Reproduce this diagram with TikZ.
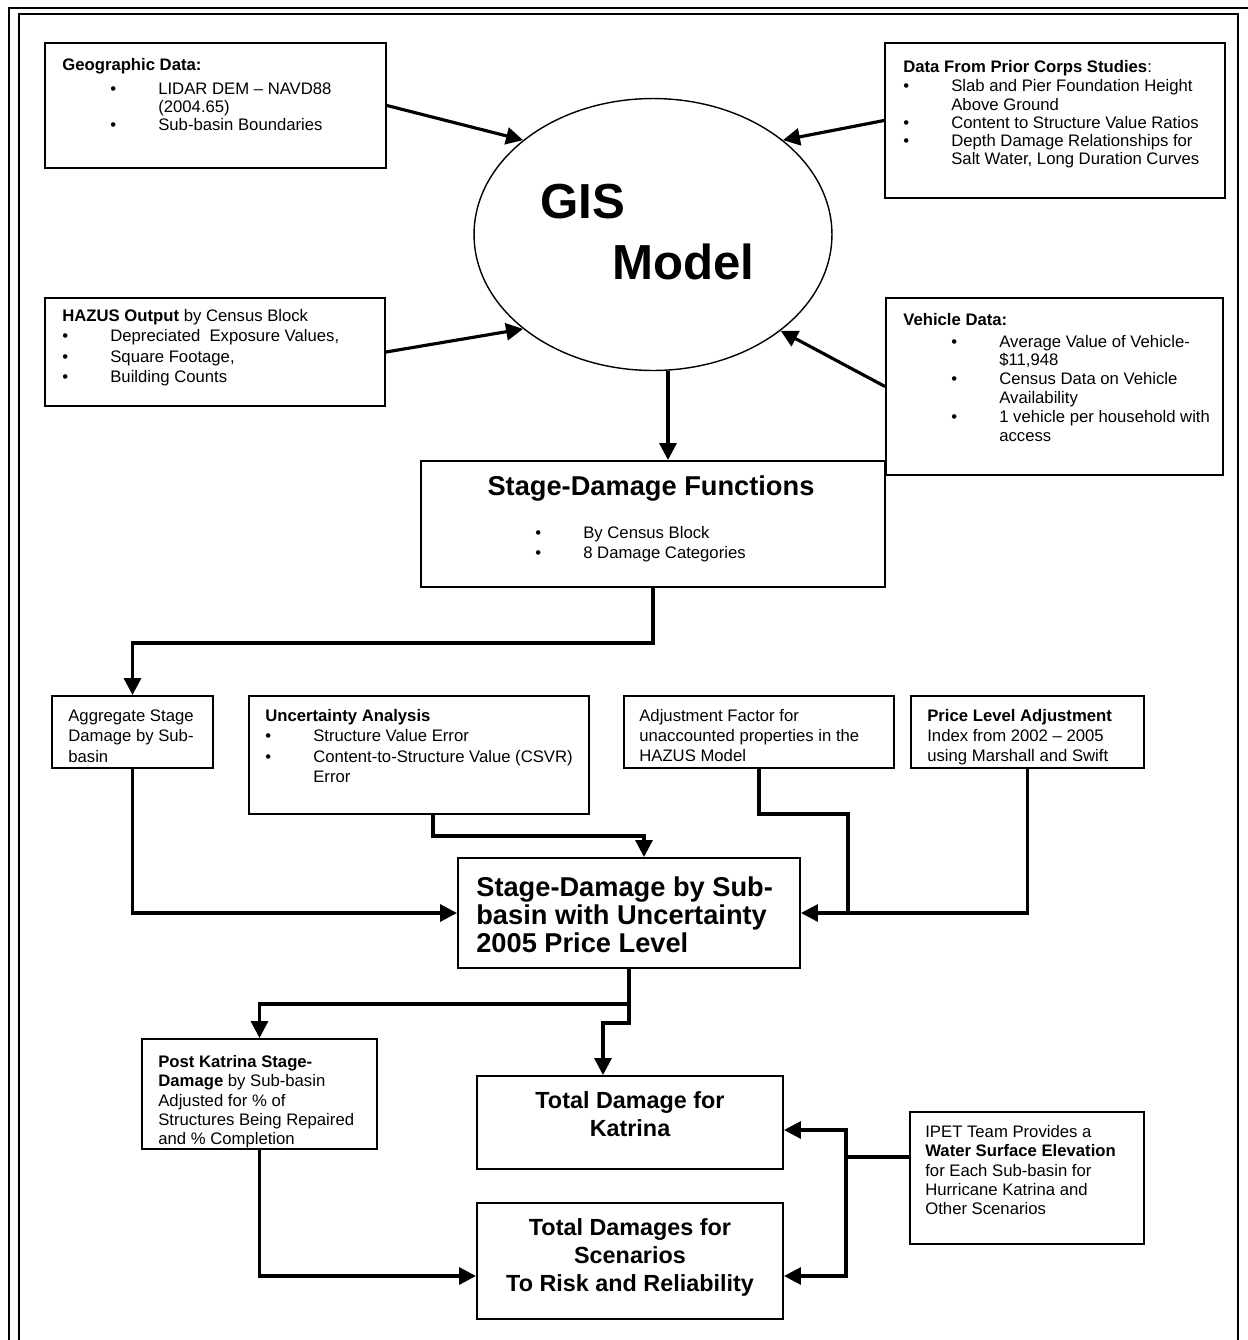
\documentclass[tikz,border=0pt]{standalone}
\usepackage{fontspec}
\setmainfont{Liberation Sans}
\usetikzlibrary{arrows.meta,shapes.geometric,fit}
\newcommand{\bul}{\makebox[0.96cm][l]{\textbullet}}
\newcommand{\gap}{\hspace*{0.96cm}}

\begin{document}
\begin{tikzpicture}[x=0.02cm, y=-0.02cm,
  box/.style={draw, line width=1.1pt, inner sep=0pt},
  txt/.style={anchor=north west, inner sep=0pt, align=left, font=\fontsize{9.5pt}{11.4pt}\selectfont},
  head/.style={inner sep=0pt, align=center, font=\fontsize{13.3pt}{16pt}\selectfont\bfseries},
  arr/.style={line width=1.8pt, -{Triangle[length=0.34cm, width=0.34cm]}},
  conn/.style={line width=1.8pt}]
  \useasboundingbox[fill=white] (0,0) rectangle (1248,1340);
  \draw[line width=1.4pt] (9,8) rectangle (1270,1360);
  \draw[line width=1.4pt] (19,14) rectangle (1238,1360);

  \node[draw, ellipse, line width=0.8pt, inner sep=0pt, minimum width=7.16cm, minimum height=5.44cm] (gis) at (653,234.5) {};
  \node[anchor=north west, inner sep=0pt, font=\fontsize{28pt}{30pt}\selectfont\bfseries] (gisa) at (540,184) {GIS};
  \node[anchor=north west, inner sep=0pt, font=\fontsize{28pt}{30pt}\selectfont\bfseries] (gisb) at (612,243) {Model};

  \node[box, fit={(45,43) (386,168)}] (geo) {};
  \node[txt, font=\fontsize{9.5pt}{10.2pt}\selectfont] (geotxt) at (62,58) {\textbf{Geographic Data:}\\[3.5pt]
    \gap\bul LIDAR DEM – NAVD88\\ \gap\gap (2004.65)\\ \gap\bul Sub-basin Boundaries};

  \node[box, fit={(885,43) (1225,198)}] (corps) {};
  \node[txt, font=\fontsize{9.5pt}{10.4pt}\selectfont] (corpstxt) at (903,60) {\textbf{Data From Prior Corps Studies}:\\[0.6pt]
    \bul Slab and Pier Foundation Height\\ \gap Above Ground\\ \bul Content to Structure Value Ratios\\
    \bul Depth Damage Relationships for\\ \gap Salt Water, Long Duration Curves};

  \node[box, fit={(45,298) (385,406)}] (hazus) {};
  \node[txt, font=\fontsize{9.5pt}{11.6pt}\selectfont] (hazustxt) at (62,309) {\textbf{HAZUS Output} by Census Block\\
    \bul Depreciated\ \ Exposure Values,\\ \bul Square Footage,\\ \bul Building Counts};

  \node[box, fit={(886,298) (1223,475)}] (veh) {};
  \node[txt, font=\fontsize{9.5pt}{10.7pt}\selectfont] (vehtxt) at (903,313) {\textbf{Vehicle Data:}\\[1.6pt]
    \gap\bul Average Value of Vehicle-\\ \gap\gap \$11,948\\ \gap\bul Census Data on Vehicle\\
    \gap\gap Availability\\ \gap\bul 1 vehicle per household with\\ \gap\gap access};

  \node[box, fit={(421,461) (885,587)}] (sdf) {};
  \node[head, anchor=north, font=\fontsize{15.5pt}{16pt}\selectfont\bfseries] (sdftitle) at (651,475) {Stage-Damage Functions};
  \node[txt] (sdflist) at (535,526) {\bul By Census Block\\ \bul 8 Damage Categories};

  \node[box, fit={(52,696) (213,768)}] (agg) {};
  \node[txt, font=\fontsize{9.5pt}{11.7pt}\selectfont] (aggtxt) at (68,709) {Aggregate Stage\\ Damage by Sub-\\ basin};

  \node[box, fit={(249,696) (589,814)}] (unc) {};
  \node[txt, font=\fontsize{9.5pt}{11.6pt}\selectfont] (unctxt) at (265,709) {\textbf{Uncertainty Analysis}\\
    \bul Structure Value Error\\ \bul Content-to-Structure Value (CSVR)\\ \gap Error};

  \node[box, fit={(624,696) (894,768)}] (adj) {};
  \node[txt] (adjtxt) at (639,709) {Adjustment Factor for\\ unaccounted properties in the\\ HAZUS Model};

  \node[box, fit={(911,696) (1144,768)}] (price) {};
  \node[txt] (pricetxt) at (927,709) {\textbf{Price Level Adjustment}\\ Index from 2002 – 2005\\ using Marshall and Swift};

  \node[box, fit={(458,858) (800,968)}] (sdsb) {};
  \node[txt, font=\fontsize{15.5pt}{16pt}\selectfont\bfseries] (sdsbtxt) at (476,876) {Stage-Damage by Sub-\\ basin with Uncertainty\\ 2005 Price Level};

  \node[box, fit={(142,1039) (377,1149)}] (post) {};
  \node[txt, font=\fontsize{9.5pt}{11pt}\selectfont] (posttxt) at (158,1055) {\textbf{Post Katrina Stage-}\\
    \textbf{Damage} by Sub-basin\\ Adjusted for \% of\\ Structures Being Repaired\\ and \% Completion};

  \node[box, fit={(477,1076) (783,1169)}] (kat) {};
  \node[head, anchor=north] (kattxt) at (630,1091) {Total Damage for\\ Katrina};

  \node[box, fit={(477,1203) (783,1319)}] (scen) {};
  \node[head, anchor=north] (scentxt) at (630,1218) {Total Damages for\\ Scenarios\\ To Risk and Reliability};

  \node[box, fit={(910,1112) (1144,1244)}] (ipet) {};
  \node[txt, font=\fontsize{9.5pt}{11pt}\selectfont] (ipettxt) at (925,1125) {IPET Team Provides a\\
    \textbf{Water Surface Elevation}\\ for Each Sub-basin for\\ Hurricane Katrina and\\ Other Scenarios};

  \draw[arr] (geo.east) -- (gis.144);
  \draw[arr] (corps.west) -- (gis.36.5);
  \draw[arr] (hazus.east) -- (gis.216.5);
  \draw[arr] (veh.west) -- (gis.323);
  \draw[arr] ([xshift=0.3cm]gis.south) -- ([xshift=0.3cm]sdf.north);
  \draw[arr] (sdf.south) -- ++(0,55) -| (agg.north);
  \draw[arr] (agg.south) |- (sdsb.west);
  \draw[arr] ([xshift=0.28cm]unc.south) -- ++(0,21) -| ([xshift=0.3cm]sdsb.north);
  \draw[conn] (adj.south) -- ++(0,45) -| ([xshift=0.94cm]sdsb.east);
  \draw[arr] (price.south) |- (sdsb.east);
  \draw[arr] (sdsb.south) -- ++(0,35) -| (post.north);
  \draw[arr] (sdsb.south) -- ++(0,54) -| ([xshift=-0.54cm]kat.north);
  \draw[arr] (post.south) |- ([yshift=-0.3cm]scen.west);
  \draw[conn] ([yshift=0.42cm]ipet.west) -- ++(-63,0) coordinate (ipj);
  \draw[arr] (ipj) |- ([yshift=-0.15cm]kat.east);
  \draw[arr] (ipj) |- ([yshift=-0.3cm]scen.east);
\end{tikzpicture}
\end{document}
